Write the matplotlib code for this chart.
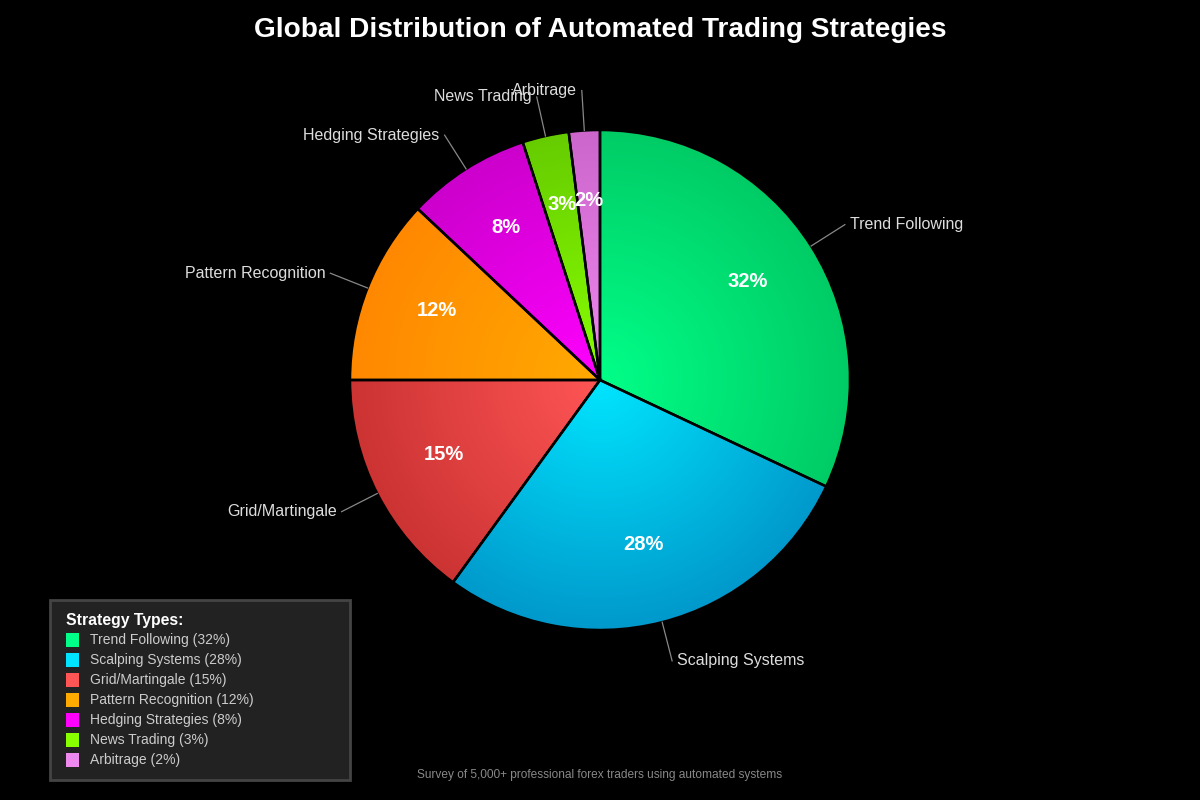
import numpy as np
import matplotlib
matplotlib.use('Agg')
from matplotlib import pyplot as plt
from matplotlib.patches import Wedge, Rectangle
from matplotlib.colors import LinearSegmentedColormap

labels = ['Trend Following', 'Scalping Systems', 'Grid/Martingale', 'Pattern Recognition',
          'Hedging Strategies', 'News Trading', 'Arbitrage']
values = [32, 28, 15, 12, 8, 3, 2]
inner_colors = ['#00ff88', '#00e5ff', '#ff5555', '#ffaa00', '#ff00ff', '#88ff00', '#ee88ee']
outer_colors = ['#00cc66', '#0099cc', '#cc3333', '#ff8800', '#cc00cc', '#66cc00', '#cc66cc']

plt.rcParams['font.family'] = ['Liberation Sans', 'DejaVu Sans']

fig = plt.figure(figsize=(12, 8), dpi=100, facecolor='black')
ax = fig.add_axes([0, 0, 1, 1])
ax.set_facecolor('black')
# pie radius 1 = 250px, centre at (600, 380) from top
ax.set_xlim(-2.4, 2.4)
ax.set_ylim(-1.68, 1.52)
ax.axis('off')

# radial distance image for gradient fill
n = 400
gx, gy = np.meshgrid(np.linspace(-1, 1, n), np.linspace(-1, 1, n))
dist = np.sqrt(gx ** 2 + gy ** 2)

total = sum(values)
start = 90.0
for lab, val, c1, c2 in zip(labels, values, inner_colors, outer_colors):
    sweep = 360.0 * val / total
    end = start
    begin = start - sweep
    w = Wedge((0, 0), 1, begin, end, facecolor='none', edgecolor='none')
    ax.add_patch(w)
    cmap = LinearSegmentedColormap.from_list(lab, [c1, c2])
    im = ax.imshow(dist, cmap=cmap, vmin=0, vmax=1, extent=(-1, 1, -1, 1),
                   origin='lower', interpolation='bilinear', zorder=1)
    im.set_clip_path(w)
    ax.add_patch(Wedge((0, 0), 1, begin, end, facecolor='none',
                       edgecolor='black', linewidth=1.8, zorder=2))

    mid = np.deg2rad((begin + end) / 2)
    cx, cy = np.cos(mid), np.sin(mid)
    ax.text(0.70 * cx, 0.70 * cy + 0.02, f'{val}%', color='white', fontsize=14.5,
            fontweight='bold', ha='center', va='center', zorder=3)
    ax.plot([1.0 * cx, 1.16 * cx], [1.0 * cy, 1.16 * cy], color='#888888',
            linewidth=0.9, zorder=2)
    ha = 'left' if cx > 0 else 'right'
    off = 0.02 if cx > 0 else -0.02
    ax.text(1.16 * cx + off, 1.16 * cy, lab, color='#dddddd', fontsize=11.5,
            ha=ha, va='center', zorder=3)
    start = begin

fig.text(0.5, 0.9625, 'Global Distribution of Automated Trading Strategies',
         color='white', fontsize=20.2, fontweight='bold', ha='center', va='center')

# legend box
lx0, ly0 = 50 / 1200, 1 - 780 / 800
box = Rectangle((lx0, ly0), 300 / 1200, 180 / 800, transform=fig.transFigure,
                facecolor='#222222', edgecolor='#444444', linewidth=2)
fig.patches.append(box)
fig.text(66 / 1200, 1 - 620 / 800, 'Strategy Types:', color='white',
         fontsize=11.3, fontweight='bold', ha='left', va='center')
for i, (lab, val, c1, c2) in enumerate(zip(labels, values, inner_colors, outer_colors)):
    y = 640 + 20 * i
    sw = Rectangle((66 / 1200, 1 - (y + 7) / 800), 13 / 1200, 14 / 800,
                   transform=fig.transFigure, facecolor=c1, edgecolor='none')
    fig.patches.append(sw)
    fig.text(90 / 1200, 1 - y / 800, f'{lab} ({val}%)', color='#cccccc',
             fontsize=10, ha='left', va='center')

fig.text(0.5, 1 - 775 / 800,
         'Survey of 5,000+ professional forex traders using automated systems',
         color='#888888', fontsize=8.6, ha='center', va='center')

fig.savefig('out.png', dpi=100, facecolor='black')
